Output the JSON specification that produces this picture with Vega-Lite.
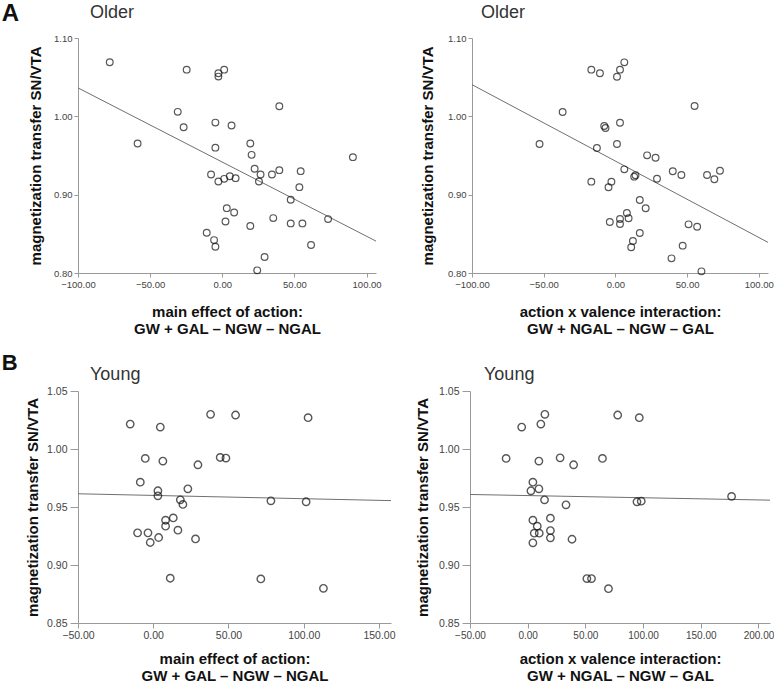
{
  "$schema": "https://vega.github.io/schema/vega-lite/v6.json",
  "padding": {"left": 1, "top": 2, "right": 0, "bottom": 0},
  "background": "white",
  "spacing": 15,
  "columns": 1,
  "align": "none",
  "config": {
    "font": "Liberation Sans",
    "view": {"stroke": null},
    "axis": {"grid": false, "domainColor": "#9a9a9a", "tickColor": "#9a9a9a", "tickSize": 4, "labelColor": "#444444", "labelFont": "Liberation Sans", "labelFontSize": 9.5, "labelPadding": 2, "titleFont": "Liberation Sans", "titleFontSize": 15, "titleFontWeight": "bold", "titleColor": "#111111", "labelOverlap": false, "labelFlush": false, "titleLineHeight": 17},
    "title": {"font": "Liberation Sans", "fontSize": 18, "fontWeight": "normal", "color": "#333333", "anchor": "start"}
  },
  "datasets": {
    "olderAction": [
      {"x": -78.0, "mt": 1.069}, {"x": -24.7, "mt": 1.0596}, {"x": -2.7, "mt": 1.055}, {"x": -2.7, "mt": 1.0507}, {"x": 1.3, "mt": 1.0596},
      {"x": 39.5, "mt": 1.0129}, {"x": -30.9, "mt": 1.0057}, {"x": -26.8, "mt": 0.986}, {"x": -4.8, "mt": 0.992}, {"x": 6.4, "mt": 0.9882},
      {"x": -58.7, "mt": 0.9653}, {"x": -4.8, "mt": 0.960}, {"x": 19.4, "mt": 0.9653}, {"x": 20.3, "mt": 0.9508}, {"x": 90.5, "mt": 0.9479},
      {"x": 22.4, "mt": 0.933}, {"x": 26.5, "mt": 0.9258}, {"x": 25.4, "mt": 0.9168}, {"x": 34.4, "mt": 0.9258}, {"x": 39.5, "mt": 0.9313},
      {"x": 54.3, "mt": 0.930}, {"x": 53.4, "mt": 0.9096}, {"x": -7.8, "mt": 0.9258}, {"x": -2.7, "mt": 0.9168}, {"x": 1.3, "mt": 0.9202},
      {"x": 5.2, "mt": 0.9236}, {"x": 9.2, "mt": 0.9211}, {"x": 47.4, "mt": 0.8935}, {"x": 3.1, "mt": 0.8828}, {"x": 8.2, "mt": 0.8773},
      {"x": 2.2, "mt": 0.8658}, {"x": 35.3, "mt": 0.8701}, {"x": 73.3, "mt": 0.8688}, {"x": 47.4, "mt": 0.8633}, {"x": 55.5, "mt": 0.8633},
      {"x": 19.4, "mt": 0.8599}, {"x": -10.8, "mt": 0.8514}, {"x": -5.7, "mt": 0.842}, {"x": -4.8, "mt": 0.8335}, {"x": 61.5, "mt": 0.8357},
      {"x": 29.3, "mt": 0.8204}, {"x": 24.2, "mt": 0.8034}
    ],
    "olderInter": [
      {"x": 6.2, "mt": 1.0689}, {"x": -16.8, "mt": 1.0596}, {"x": -10.8, "mt": 1.0549}, {"x": 3.2, "mt": 1.0596}, {"x": 1.1, "mt": 1.0506},
      {"x": 55.2, "mt": 1.0132}, {"x": -36.8, "mt": 1.0055}, {"x": -7.8, "mt": 0.9877}, {"x": -6.9, "mt": 0.9851}, {"x": 3.2, "mt": 0.9919},
      {"x": -52.9, "mt": 0.9647}, {"x": 1.1, "mt": 0.9647}, {"x": -12.9, "mt": 0.9596}, {"x": 22.1, "mt": 0.9502}, {"x": 28.0, "mt": 0.9472},
      {"x": 6.2, "mt": 0.9323}, {"x": 14.0, "mt": 0.9247}, {"x": 13.1, "mt": 0.923}, {"x": 29.0, "mt": 0.9204}, {"x": 40.0, "mt": 0.9298},
      {"x": 46.0, "mt": 0.9251}, {"x": 63.9, "mt": 0.9251}, {"x": 69.0, "mt": 0.9196}, {"x": 72.9, "mt": 0.9306}, {"x": -16.8, "mt": 0.9166},
      {"x": -2.8, "mt": 0.9166}, {"x": -4.8, "mt": 0.9094}, {"x": 17.0, "mt": 0.8932}, {"x": 21.1, "mt": 0.8826}, {"x": 8.0, "mt": 0.8766},
      {"x": 3.2, "mt": 0.8689}, {"x": 3.2, "mt": 0.8626}, {"x": 9.2, "mt": 0.8698}, {"x": -3.9, "mt": 0.8651}, {"x": 51.0, "mt": 0.8621},
      {"x": 57.0, "mt": 0.8591}, {"x": 17.0, "mt": 0.8511}, {"x": 12.2, "mt": 0.8409}, {"x": 11.0, "mt": 0.8328}, {"x": 46.9, "mt": 0.8349},
      {"x": 39.1, "mt": 0.8187}, {"x": 60.0, "mt": 0.8021}
    ],
    "youngAction": [
      {"x": -15.3, "mt": 1.0215}, {"x": 4.7, "mt": 1.0189}, {"x": 38.1, "mt": 1.0299}, {"x": 54.7, "mt": 1.0293}, {"x": 102.9, "mt": 1.027},
      {"x": -5.3, "mt": 0.9919}, {"x": 6.4, "mt": 0.9896}, {"x": 29.7, "mt": 0.9864}, {"x": 44.5, "mt": 0.9927}, {"x": 48.3, "mt": 0.9922},
      {"x": -8.6, "mt": 0.9714}, {"x": 3.1, "mt": 0.964}, {"x": 3.1, "mt": 0.9596}, {"x": 23.0, "mt": 0.9657}, {"x": 18.0, "mt": 0.9562},
      {"x": 19.7, "mt": 0.9522}, {"x": 78.2, "mt": 0.9553}, {"x": 101.6, "mt": 0.9545}, {"x": 13.3, "mt": 0.9406}, {"x": 8.2, "mt": 0.9386},
      {"x": 8.2, "mt": 0.9335}, {"x": -10.4, "mt": 0.9277}, {"x": -3.5, "mt": 0.9277}, {"x": -2.0, "mt": 0.9194}, {"x": 3.6, "mt": 0.9237},
      {"x": 16.4, "mt": 0.930}, {"x": 28.1, "mt": 0.9225}, {"x": 11.3, "mt": 0.8886}, {"x": 71.5, "mt": 0.888}, {"x": 113.1, "mt": 0.8799}
    ],
    "youngInter": [
      {"x": 14.9, "mt": 1.0299}, {"x": 11.4, "mt": 1.0215}, {"x": -5.2, "mt": 1.0189}, {"x": 78.0, "mt": 1.0293}, {"x": 96.7, "mt": 1.027},
      {"x": -18.7, "mt": 0.9919}, {"x": 9.7, "mt": 0.9896}, {"x": 28.1, "mt": 0.9924}, {"x": 39.8, "mt": 0.9864}, {"x": 64.8, "mt": 0.9919},
      {"x": 4.5, "mt": 0.9714}, {"x": 2.8, "mt": 0.964}, {"x": 9.7, "mt": 0.9657}, {"x": 14.6, "mt": 0.9562}, {"x": 33.2, "mt": 0.9519},
      {"x": 94.7, "mt": 0.9545}, {"x": 98.4, "mt": 0.955}, {"x": 176.7, "mt": 0.9591}, {"x": 19.7, "mt": 0.9404}, {"x": 4.5, "mt": 0.9386},
      {"x": 8.3, "mt": 0.9335}, {"x": 5.7, "mt": 0.9274}, {"x": 10.0, "mt": 0.9274}, {"x": 19.7, "mt": 0.9297}, {"x": 19.7, "mt": 0.9234},
      {"x": 4.5, "mt": 0.9191}, {"x": 38.4, "mt": 0.9222}, {"x": 51.3, "mt": 0.8883}, {"x": 55.3, "mt": 0.8883}, {"x": 70.0, "mt": 0.8796}
    ],
    "olderActionFit": [{"x": -100, "mt": 1.0363}, {"x": 106.5, "mt": 0.8407}],
    "olderInterFit": [{"x": -100, "mt": 1.0404}, {"x": 106.4, "mt": 0.8391}],
    "youngActionFit": [{"x": -50, "mt": 0.9614}, {"x": 158, "mt": 0.9555}],
    "youngInterFit": [{"x": -50, "mt": 0.9608}, {"x": 210, "mt": 0.9559}]
  },
  "concat": [
    {
      "title": {"text": "A", "orient": "left", "angle": 0, "anchor": "end", "align": "right", "baseline": "top", "fontSize": 24, "fontWeight": "bold", "color": "#111111", "offset": -8, "dy": -2},
      "spacing": 38,
      "hconcat": [
        {
          "width": 298, "height": 235,
          "title": {"text": "Older", "dx": 12, "offset": 11, "frame": "group"},
          "layer": [
            {
              "data": {"name": "olderActionFit"},
              "mark": {"type": "line", "color": "#707070", "strokeWidth": 1},
              "encoding": {
                "x": {"field": "x", "type": "quantitative", "scale": {"domain": [-100, 106.5], "nice": false, "zero": false}, "axis": {"values": [-100, -50, 0, 50, 100], "format": ".2f", "titlePadding": 16, "title": ["main effect of action:", "GW + GAL – NGW – NGAL"]}},
                "y": {"field": "mt", "type": "quantitative", "scale": {"domain": [0.8, 1.1], "nice": false, "zero": false}, "axis": {"values": [0.8, 0.85, 0.9, 0.95, 1.0, 1.05, 1.1], "format": ".2f", "titlePadding": 10, "title": "magnetization transfer SN/VTA"}}
              }
            },
            {
              "data": {"name": "olderAction"},
              "mark": {"type": "point", "shape": "circle", "filled": false, "color": "#111111", "size": 45, "strokeWidth": 1.2},
              "encoding": {"x": {"field": "x", "type": "quantitative"}, "y": {"field": "mt", "type": "quantitative"}}
            }
          ]
        },
        {
          "width": 296, "height": 235,
          "title": {"text": "Older", "dx": 9, "offset": 11, "frame": "group"},
          "layer": [
            {
              "data": {"name": "olderInterFit"},
              "mark": {"type": "line", "color": "#707070", "strokeWidth": 1},
              "encoding": {
                "x": {"field": "x", "type": "quantitative", "scale": {"domain": [-100, 106.4], "nice": false, "zero": false}, "axis": {"values": [-100, -50, 0, 50, 100], "format": ".2f", "titlePadding": 16, "title": ["action x valence interaction:", "GW + NGAL – NGW – GAL"]}},
                "y": {"field": "mt", "type": "quantitative", "scale": {"domain": [0.8, 1.1], "nice": false, "zero": false}, "axis": {"values": [0.8, 0.85, 0.9, 0.95, 1.0, 1.05, 1.1], "format": ".2f", "titlePadding": 12, "title": "magnetization transfer SN/VTA"}}
              }
            },
            {
              "data": {"name": "olderInter"},
              "mark": {"type": "point", "shape": "circle", "filled": false, "color": "#111111", "size": 45, "strokeWidth": 1.2},
              "encoding": {"x": {"field": "x", "type": "quantitative"}, "y": {"field": "mt", "type": "quantitative"}}
            }
          ]
        }
      ]
    },
    {
      "title": {"text": "B", "orient": "left", "angle": 0, "anchor": "end", "align": "right", "baseline": "top", "fontSize": 22, "fontWeight": "bold", "color": "#111111", "offset": -8, "dy": -13},
      "spacing": 19,
      "hconcat": [
        {
          "width": 313, "height": 232,
          "title": {"text": "Young", "dx": 12, "offset": 2, "frame": "group"},
          "layer": [
            {
              "data": {"name": "youngActionFit"},
              "mark": {"type": "line", "color": "#707070", "strokeWidth": 1},
              "encoding": {
                "x": {"field": "x", "type": "quantitative", "scale": {"domain": [-50, 158], "nice": false, "zero": false}, "axis": {"values": [-50, 0, 50, 100, 150], "format": ".2f", "labelFontSize": 10.5, "tickSize": 5, "titlePadding": 11, "title": ["main effect of action:", "GW + GAL – NGW – NGAL"]}},
                "y": {"field": "mt", "type": "quantitative", "scale": {"domain": [0.85, 1.05], "nice": false, "zero": false}, "axis": {"values": [0.85, 0.9, 0.95, 1.0, 1.05], "format": ".2f", "labelFontSize": 10.5, "tickSize": 8, "labelPadding": 3, "titlePadding": 6, "title": "magnetization transfer SN/VTA"}}
              }
            },
            {
              "data": {"name": "youngAction"},
              "mark": {"type": "point", "shape": "circle", "filled": false, "color": "#111111", "size": 55, "strokeWidth": 1.4},
              "encoding": {"x": {"field": "x", "type": "quantitative"}, "y": {"field": "mt", "type": "quantitative"}}
            }
          ]
        },
        {
          "width": 300, "height": 232,
          "title": {"text": "Young", "dx": 14, "offset": 2, "frame": "group"},
          "layer": [
            {
              "data": {"name": "youngInterFit"},
              "mark": {"type": "line", "color": "#707070", "strokeWidth": 1},
              "encoding": {
                "x": {"field": "x", "type": "quantitative", "scale": {"domain": [-50, 210], "nice": false, "zero": false}, "axis": {"values": [-50, 0, 50, 100, 150, 200], "format": ".2f", "labelFontSize": 10, "tickSize": 5, "titlePadding": 11, "title": ["action x valence interaction:", "GW + NGAL – NGW – GAL"]}},
                "y": {"field": "mt", "type": "quantitative", "scale": {"domain": [0.85, 1.05], "nice": false, "zero": false}, "axis": {"values": [0.85, 0.9, 0.95, 1.0, 1.05], "format": ".2f", "labelFontSize": 10.5, "tickSize": 8, "labelPadding": 3, "titlePadding": 8, "title": "magnetization transfer SN/VTA"}}
              }
            },
            {
              "data": {"name": "youngInter"},
              "mark": {"type": "point", "shape": "circle", "filled": false, "color": "#111111", "size": 55, "strokeWidth": 1.4},
              "encoding": {"x": {"field": "x", "type": "quantitative"}, "y": {"field": "mt", "type": "quantitative"}}
            }
          ]
        }
      ]
    }
  ]
}
